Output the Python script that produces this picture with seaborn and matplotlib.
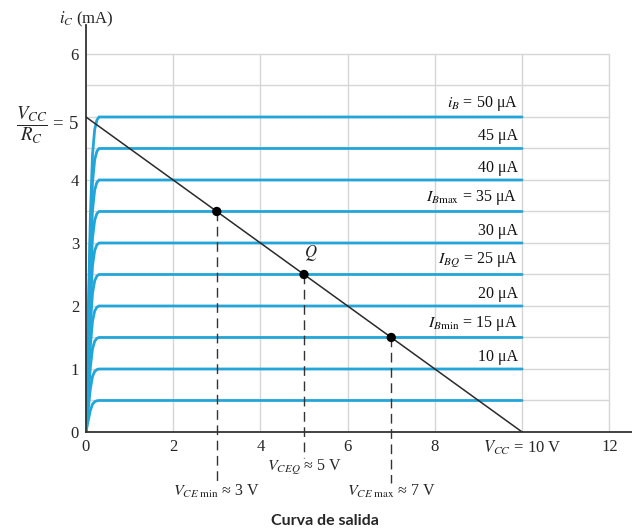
import matplotlib.pyplot as plt
import numpy as np
import pandas as pd
import seaborn as sns

# base current of each curve (uA) and its flat collector current (mA)
ib_values = [5, 10, 15, 20, 25, 30, 35, 40, 45, 50]
ic_levels = [0.5, 1.0, 1.5, 2.0, 2.5, 3.0, 3.5, 4.0, 4.5, 5.0]

# knee shape (fraction of the flat level vs V_CE)
knee_vce = [0.0, 0.05, 0.10, 0.15, 0.20, 0.25, 0.30, 0.40, 10.0]
knee_frac = [0.0, 0.35, 0.68, 0.88, 0.96, 0.99, 1.0, 1.0, 1.0]

# load line and operating points
load_vce = [0, 10]
load_ic = [5, 0]
pts_vce = [3, 5, 7]
pts_ic = [3.5, 2.5, 1.5]

curve_labels = {
    50: r"$i_B$ = 50 μA",
    45: "45 μA",
    40: "40 μA",
    35: r"$I_{B\mathrm{max}}$ = 35 μA",
    30: "30 μA",
    25: r"$I_{BQ}$ = 25 μA",
    20: "20 μA",
    15: r"$I_{B\mathrm{min}}$ = 15 μA",
    10: "10 μA",
}

rows = []
for ib, lvl in zip(ib_values, ic_levels):
    for v, f in zip(knee_vce, knee_frac):
        rows.append({"vce": v, "ic": lvl * f, "ib": ib})
df = pd.DataFrame(rows)

sns.set_style("white")
plt.rcParams["font.family"] = ["Liberation Serif", "DejaVu Serif"]
plt.rcParams["mathtext.fontset"] = "stix"

fig = plt.figure(figsize=(6.32, 5.32), dpi=100)
ax = fig.add_axes([0.136, 0.188, 0.864, 0.765])

grid_c = "#d6d6d6"
ax.hlines(np.arange(0.5, 6.01, 0.5), 0, 12, color=grid_c, lw=1, zorder=0)
ax.vlines(np.arange(2, 12.01, 2), 0, 6, color=grid_c, lw=1, zorder=0)

sns.lineplot(data=df, x="vce", y="ic", units="ib", estimator=None,
             color="#22a5d8", lw=2, ax=ax, zorder=2)
ax.plot(load_vce, load_ic, color="#2a2a2a", lw=1.1, zorder=3)
sns.scatterplot(x=pts_vce, y=pts_ic, color="black", s=45, ax=ax,
                zorder=4, edgecolor="none")

for ib, lvl in zip(ib_values, ic_levels):
    if ib in curve_labels:
        ax.text(9.9, lvl + 0.07, curve_labels[ib], ha="right", va="bottom",
                fontsize=11.5, color="#111111")

ax.text(5.15, 2.68, r"$Q$", fontsize=12, ha="center", va="bottom")

# dashed drops to the labels under the axis
drops = [(3, 3.5, -0.81), (5, 2.5, -0.41), (7, 1.5, -0.81)]
for x, top, bot in drops:
    ax.plot([x, x], [top, bot], color="#333333", lw=1, ls=(0, (7, 4)),
            clip_on=False, zorder=3)

ax.text(3, -0.95, r"$V_{CE\ \mathrm{min}}$ ≈ 3 V", ha="center", va="center", fontsize=11.5)
ax.text(5, -0.56, r"$V_{CEQ}$ ≈ 5 V", ha="center", va="center", fontsize=11.5)
ax.text(7, -0.95, r"$V_{CE\ \mathrm{max}}$ ≈ 7 V", ha="center", va="center", fontsize=11.5)

ax.set_xlim(0, 12.52)
ax.set_ylim(0, 6.46)
ax.set_xticks([0, 2, 4, 6, 8, 10, 12])
ax.set_xticklabels(["0", "2", "4", "6", "8", r"$V_{CC}$ = 10 V", "12"])
ax.set_yticks([0, 1, 2, 3, 4, 5, 6])
ax.set_yticklabels(["0", "1", "2", "3", "4", r"$\dfrac{V_{CC}}{R_C}$ = 5", "6"])
ax.tick_params(length=0, labelsize=12, pad=5)
ax.get_yticklabels()[5].set_fontsize(13.5)
ax.set_xlabel("")
ax.set_ylabel("")

sns.despine(ax=ax)
for s in ["left", "bottom"]:
    ax.spines[s].set_color("#333333")
    ax.spines[s].set_linewidth(1.3)

ax.text(0, 6.55, r"$i_C$ (mA)", ha="center", va="center", fontsize=12,
        clip_on=False)

fig.text(325 / 632, 1 - 521 / 532, "Curva de salida", ha="center",
         va="center", fontsize=11.5, fontweight="bold", family="Lato")

fig.savefig("out.png", dpi=100)
